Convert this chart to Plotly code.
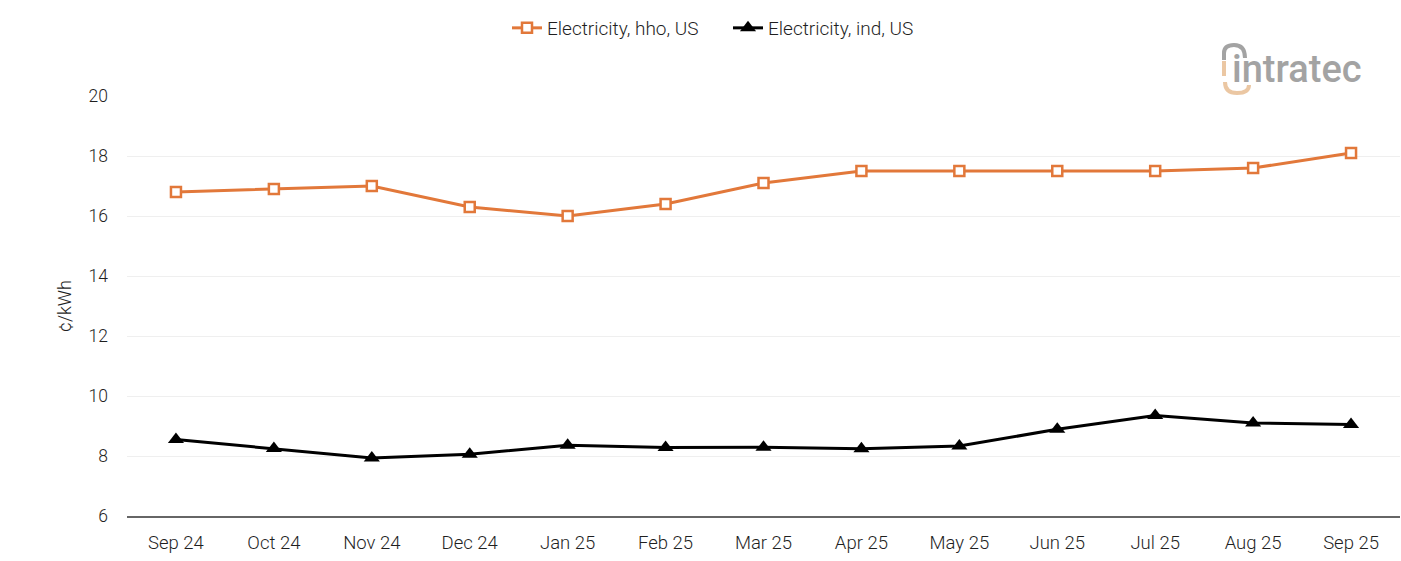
import plotly.graph_objects as go

months = ["Sep 24", "Oct 24", "Nov 24", "Dec 24", "Jan 25", "Feb 25", "Mar 25",
          "Apr 25", "May 25", "Jun 25", "Jul 25", "Aug 25", "Sep 25"]
hho_us = [16.8, 16.9, 17.0, 16.3, 16.0, 16.4, 17.1, 17.5, 17.5, 17.5, 17.5, 17.6, 18.1]
ind_us = [8.55, 8.25, 7.93, 8.06, 8.36, 8.28, 8.29, 8.24, 8.33, 8.89, 9.35, 9.10, 9.05]
y_ticks = [6, 8, 10, 12, 14, 16, 18, 20]

W, H = 1401, 561
L, R, T, B = 127, 1, 96, 45
PW, PH = W - L - R, H - T - B


def px(x):
    return (x - L) / PW


def py(y):
    return (H - B - y) / PH


ORANGE = "#E2783A"
TXT = "#1f1f1f"
FONT = "Roboto, Arial, sans-serif"

fig = go.Figure()
fig.add_trace(go.Scatter(
    x=months, y=hho_us, name="Electricity, hho, US", mode="lines+markers",
    line=dict(color=ORANGE, width=3), legend="legend",
    marker=dict(symbol="square", size=10, color="white", line=dict(color=ORANGE, width=2.5)),
))
fig.add_trace(go.Scatter(
    x=months, y=ind_us, name="Electricity, ind, US", mode="lines+markers",
    line=dict(color="black", width=3), legend="legend2",
    marker=dict(symbol="triangle-up", size=14, color="black"),
))

# logo
fig.add_annotation(
    xref="paper", yref="paper", x=px(1297), y=py(69), text="intratec", showarrow=False,
    font=dict(family=FONT, size=38, color="#a3a3a3", weight=500),
    xanchor="center", yanchor="middle",
)
fig.add_shape(
    type="path", xref="paper", yref="paper",
    path=f"M {px(1224)},{py(60)} L {px(1224)},{py(53)} Q {px(1224)},{py(45)} {px(1234)},{py(45)} "
         f"Q {px(1245)},{py(45)} {px(1245)},{py(58)}",
    line=dict(color="#a3a3a3", width=4),
)
fig.add_shape(
    type="path", xref="paper", yref="paper",
    path=f"M {px(1224)},{py(61)} L {px(1224)},{py(76)}",
    line=dict(color="#ebc7a3", width=4),
)
fig.add_shape(
    type="path", xref="paper", yref="paper",
    path=f"M {px(1225)},{py(82)} Q {px(1225)},{py(93)} {px(1237)},{py(93)} "
         f"Q {px(1249)},{py(93)} {px(1249)},{py(85)}",
    line=dict(color="#ebc7a3", width=4),
)

leg_common = dict(orientation="h", yanchor="middle", y=py(28), xanchor="left",
                  font=dict(size=19, color=TXT, weight=300), itemwidth=30,
                  bgcolor="rgba(0,0,0,0)")

fig.update_layout(
    width=W, height=H, autosize=False,
    margin=dict(l=L, r=R, t=T, b=B, autoexpand=False),
    paper_bgcolor="white", plot_bgcolor="white",
    font=dict(family=FONT, size=17, color=TXT, weight=300),
    showlegend=True,
    legend=dict(x=px(507), **leg_common),
    legend2=dict(x=px(728), **leg_common),
    xaxis=dict(
        type="category", range=[-0.5, 12.5], showgrid=False, showline=True,
        linecolor="#666666", linewidth=1.5, ticks="", ticklabelstandoff=9,
        tickfont=dict(size=18.5, color=TXT, weight=300), zeroline=False,
    ),
    yaxis=dict(
        range=[6, 20], tickvals=y_ticks, showgrid=True, gridcolor="#efefef", gridwidth=1,
        showline=False, zeroline=False, ticks="", ticklabelstandoff=18,
        tickfont=dict(size=17.5, color=TXT, weight=300),
        title=dict(text="¢/kWh", font=dict(size=18, color=TXT, weight=300), standoff=12),
    ),
)

fig.write_html(
    "out.html",
    config={"responsive": False, "displayModeBar": False},
    post_script="document.body.style.margin='0px';document.body.style.overflow='hidden';",
)
